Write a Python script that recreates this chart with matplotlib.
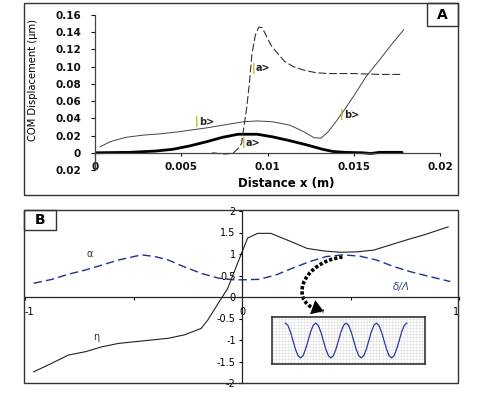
import matplotlib
matplotlib.use("Agg")
import matplotlib.pyplot as plt
from matplotlib.patches import Rectangle, FancyArrowPatch, PathPatch
from matplotlib.path import Path
from matplotlib.ticker import MultipleLocator

# ---------------- data: panel A ----------------
a_x = [0.0068, 0.0072, 0.0076, 0.0080, 0.0083, 0.0085, 0.0086, 0.0088, 0.00895, 0.0091,
       0.0093, 0.0095, 0.0097, 0.0099, 0.0102, 0.0106, 0.0110, 0.0115, 0.0121, 0.0128,
       0.0135, 0.0150, 0.0165, 0.0178]
a_y = [0.0, -0.001, -0.0014, -0.0005, 0.005, 0.011, 0.026, 0.053, 0.081, 0.115,
       0.137, 0.146, 0.145, 0.137, 0.125, 0.115, 0.106, 0.100, 0.096, 0.093,
       0.092, 0.092, 0.091, 0.091]

b_x = [0.0003, 0.0009, 0.0018, 0.0028, 0.0038, 0.0047, 0.0056, 0.0065, 0.0074, 0.0086,
       0.0094, 0.0103, 0.0113, 0.0121, 0.0127, 0.0131, 0.0135, 0.0140, 0.0145, 0.0150,
       0.0157, 0.0165, 0.0172, 0.0179]
b_y = [0.007, 0.013, 0.018, 0.0205, 0.022, 0.024, 0.0265, 0.029, 0.032, 0.036,
       0.037, 0.036, 0.032, 0.0245, 0.0175, 0.017, 0.024, 0.037, 0.051, 0.066,
       0.088, 0.108, 0.126, 0.143]

c_x = [0.0, 0.002, 0.0035, 0.0045, 0.0055, 0.0065, 0.0074, 0.0083, 0.0094, 0.0103,
       0.0113, 0.0123, 0.0132, 0.0138, 0.0145, 0.0155, 0.0160, 0.0165, 0.0178]
c_y = [0.0, 0.0005, 0.002, 0.004, 0.008, 0.013, 0.018, 0.0215, 0.0215, 0.0185,
       0.014, 0.009, 0.004, 0.0015, 0.0005, 0.0, -0.0008, 0.0005, 0.0005]

a_xticks = [0, 0.005, 0.01, 0.015, 0.02]
a_xlabels = ["0", "0.005", "0.01", "0.015", "0.02"]
a_yticks = [-0.02, 0, 0.02, 0.04, 0.06, 0.08, 0.10, 0.12, 0.14, 0.16]
a_ylabels = ["0.02", "0", "0.02", "0.04", "0.06", "0.08", "0.10", "0.12", "0.14", "0.16"]

# ---------------- data: panel B ----------------
eta_x = [-0.96, -0.876, -0.80, -0.72, -0.647, -0.57, -0.494, -0.417, -0.34, -0.265,
         -0.188, -0.157, -0.11, -0.066, -0.005, 0.026, 0.072, 0.133, 0.225, 0.30,
         0.378, 0.454, 0.53, 0.607, 0.683, 0.76, 0.836, 0.95]
eta_y = [-1.74, -1.54, -1.35, -1.27, -1.16, -1.08, -1.04, -1.0, -0.96, -0.88,
         -0.73, -0.53, -0.15, 0.20, 0.98, 1.37, 1.48, 1.48, 1.29, 1.13,
         1.07, 1.04, 1.05, 1.09, 1.21, 1.33, 1.44, 1.63]

alpha_x = [-0.96, -0.876, -0.80, -0.72, -0.647, -0.57, -0.463, -0.40, -0.34, -0.265,
           -0.188, -0.11, -0.04, 0.0, 0.078, 0.155, 0.233, 0.31, 0.388, 0.465,
           0.543, 0.62, 0.698, 0.775, 0.853, 0.96]
alpha_y = [0.32, 0.41, 0.53, 0.63, 0.74, 0.86, 0.98, 0.94, 0.86, 0.70,
           0.55, 0.44, 0.40, 0.40, 0.41, 0.51, 0.67, 0.82, 0.94, 0.98,
           0.95, 0.86, 0.71, 0.59, 0.49, 0.36]

b_xticks = [-1, -0.5, 0, 0.5, 1]
b_xlabels = ["-1", "", "0", "", "1"]
b_yticks = [-2, -1.5, -1, -0.5, 0, 0.5, 1, 1.5, 2]
b_ylabels = ["-2", "-1.5", "-1", "-0.5", "0", "0.5", "1", "1.5", "2"]

wave_y = [1, 0.87, 0.5, 0, -0.5, -0.87, -1, -0.87, -0.5, 0, 0.5, 0.87,
          1, 0.87, 0.5, 0, -0.5, -0.87, -1, -0.87, -0.5, 0, 0.5, 0.87,
          1, 0.87, 0.5, 0, -0.5, -0.87, -1, -0.87, -0.5, 0, 0.5, 0.87,
          1, 0.87, 0.5, 0, -0.5, -0.87, -1, -0.87, -0.5, 0, 0.5, 0.87, 1]

W, H = 480, 398
fig = plt.figure(figsize=(W / 100, H / 100), dpi=100)
plt.rcParams['font.family'] = ['DejaVu Sans']


def fr(x0, y0, x1, y1):
    return [x0 / W, 1 - y1 / H, (x1 - x0) / W, (y1 - y0) / H]


def frame(x0, y0, x1, y1, lw=1.0, color='#333333'):
    r = Rectangle((x0 / W, 1 - y1 / H), (x1 - x0) / W, (y1 - y0) / H,
                  transform=fig.transFigure, fill=False, ec=color, lw=lw)
    fig.patches.append(r)


# frames
frame(24, 3, 458, 195)
frame(24, 210, 458, 383)
frame(427, 3, 458, 26)
frame(24, 210, 56, 230)
fig.text(442 / W, 1 - 15 / H, "A", ha='center', va='center', fontsize=10, fontweight='bold')
fig.text(40 / W, 1 - 220 / H, "B", ha='center', va='center', fontsize=10, fontweight='bold')

# ---------------- panel A ----------------
axA = fig.add_axes(fr(95, 15, 440, 170))
axA.set_xlim(0, 0.02)
axA.set_ylim(-0.02, 0.16)
for s in ['top', 'right']:
    axA.spines[s].set_visible(False)
axA.spines['bottom'].set_position(('data', 0))
axA.spines['bottom'].set_color('#444444')
axA.spines['left'].set_color('#444444')
axA.spines['bottom'].set_linewidth(0.9)
axA.spines['left'].set_linewidth(0.9)
axA.set_xticks(a_xticks)
axA.set_xticklabels(a_xlabels, fontsize=7.5, fontweight='bold')
axA.set_yticks(a_yticks)
axA.set_yticklabels(a_ylabels, fontsize=7.5, fontweight='bold')
axA.tick_params(axis='x', direction='out', length=2.5, width=0.8, pad=4, colors='#111111')
axA.tick_params(axis='y', direction='out', length=3, width=0.8, pad=7, colors='#111111')
axA.patch.set_alpha(0)

axA.plot(c_x, c_y, color='black', lw=2.0, solid_capstyle='round')
axA.plot(b_x, b_y, color='#444444', lw=0.7)
axA.plot(a_x, a_y, color='#333333', lw=0.8, dashes=(7, 2.5))

axA.set_ylabel("COM Displacement (\u00b5m)", fontsize=7.2)
axA.yaxis.set_label_coords(-0.165, 0.58)
fig.text(286 / W, 1 - 184 / H, "Distance x (m)", ha='center', va='center',
         fontsize=8.5, fontweight='bold')


def ket(ax, x, y, s):
    t = ax.text(x, y, "|", color='#c8a800', fontsize=7, fontweight='bold', va='center', ha='left')
    ax.annotate(s, xy=(1, 0.5), xycoords=t, xytext=(0.3, 0), textcoords='offset points',
                fontsize=7, fontweight='bold', va='center', ha='left', color='#222222')


ket(axA, 0.0058, 0.036, "b>")
ket(axA, 0.0091, 0.098, "a>")
ket(axA, 0.0085, 0.0117, "a>")
ket(axA, 0.0142, 0.044, "b>")

# ---------------- panel B ----------------
axB = fig.add_axes(fr(25, 211, 459, 383))
axB.set_xlim(-1, 1)
axB.set_ylim(-2, 2)
axB.patch.set_alpha(0)
for s in ['top', 'right']:
    axB.spines[s].set_visible(False)
axB.spines['bottom'].set_position(('data', 0))
axB.spines['left'].set_position(('data', 0))
for s in ['bottom', 'left']:
    axB.spines[s].set_color('#222222')
    axB.spines[s].set_linewidth(0.9)
axB.set_xticks(b_xticks)
axB.set_xticklabels(b_xlabels, fontsize=7)
axB.set_yticks(b_yticks)
axB.set_yticklabels(b_ylabels, fontsize=7)
axB.tick_params(axis='x', direction='out', length=2.5, width=0.8, pad=5)
axB.tick_params(axis='y', direction='out', length=2.5, width=0.8, pad=2)
xl = axB.get_xticklabels()
xl[0].set_ha('left')
xl[-1].set_ha('right')

axB.plot(alpha_x, alpha_y, color='#22308f', lw=1.0, dashes=(6, 3))
axB.plot(eta_x, eta_y, color='#222222', lw=0.8)
axB.text(-0.70, 1.0, "\u03b1", fontsize=7, color='#333333', ha='center', va='center')
axB.text(-0.67, -0.92, "\u03b7", fontsize=7, color='#333333', ha='center', va='center')
axB.text(0.735, 0.23, "\u03b4/\u039b", fontsize=7.5, color='#3a4a7a', style='italic',
         ha='center', va='center')

# curved dotted arrow (annotation, cubic Bezier)
p_start = (0.463, 0.93)
p_c1 = (0.271, 0.81)
p_c2 = (0.202, -0.19)
p_end = (0.376, -0.33)
curve = Path([p_start, p_c1, p_c2, p_end],
             [Path.MOVETO, Path.CURVE4, Path.CURVE4, Path.CURVE4])
axB.add_patch(PathPatch(curve, fill=False, ec='black', lw=2.6,
                        linestyle=(0, (0.9, 0.55)), capstyle='butt'))
t0 = 0.85
u0 = 1 - t0
p_back = tuple(u0 ** 3 * p_start[i] + 3 * u0 ** 2 * t0 * p_c1[i]
               + 3 * u0 * t0 ** 2 * p_c2[i] + t0 ** 3 * p_end[i] for i in range(2))
axB.add_patch(FancyArrowPatch(posA=p_back, posB=p_end,
                              arrowstyle="-|>,head_length=0.7,head_width=0.45",
                              mutation_scale=12, lw=0, color='black',
                              shrinkA=0, shrinkB=0))

# ---------------- inset ----------------
axI = fig.add_axes(fr(272, 317, 425, 364))
axI.plot(range(len(wave_y)), wave_y, color='#2a3aa0', lw=0.9)
n = len(wave_y) - 1
axI.set_xlim(-n * 0.11, n * 1.15)
axI.set_ylim(-1.35, 1.35)
axI.xaxis.set_minor_locator(MultipleLocator(n / 40))
axI.yaxis.set_minor_locator(MultipleLocator(0.18))
axI.grid(True, which='minor', color='#dedede', lw=0.4)
axI.tick_params(which='both', length=0, labelbottom=False, labelleft=False)
axI.set_xticks([])
axI.set_yticks([])
for s in axI.spines.values():
    s.set_color('#333333')
    s.set_linewidth(1.2)

fig.savefig("out.png", dpi=100)
